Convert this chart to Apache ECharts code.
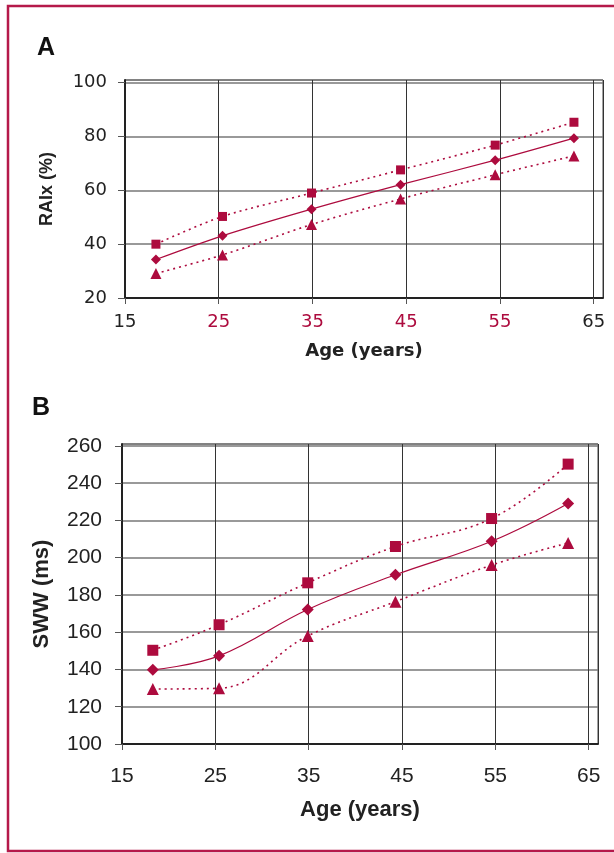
<!DOCTYPE html>
<html><head><meta charset="utf-8">
<script src="https://cdn.jsdelivr.net/npm/echarts@6/dist/echarts.min.js"></script>
<style>html,body{margin:0;padding:0;background:#fff}#c{width:614px;height:853px}</style>
</head><body><div id="c"></div>
<script>
// ---- data ----
var agesA = [18.3, 25.4, 34.9, 44.4, 54.5, 62.9];
var raixUpper = [40, 50.3, 59, 67.6, 76.8, 85.3];
var raixMean  = [34.3, 43.1, 53.0, 62.1, 71.2, 79.4];
var raixLower = [29.1, 36.0, 47.3, 56.8, 65.8, 72.8];

var agesB = [18.3, 25.4, 34.9, 44.3, 54.6, 62.8];
var swwUpper = [150.3, 164, 186.5, 206, 221, 250.2];
var swwMean  = [139.8, 147.3, 172.2, 190.8, 208.8, 229.1];
var swwLower = [129.5, 129.9, 158, 176.4, 196, 207.9];

var redLabelsA = ['25', '35', '45', '55'];

var RED = '#ad0b3e';
var WFONT = '"DejaVu Sans", "Liberation Sans", Arial, sans-serif';
var AFONT = '"Liberation Sans", Arial, sans-serif';

function pairs(xs, ys) { return xs.map(function (x, i) { return [x, ys[i]]; }); }

function mkSeries(idx, xs, ys, symbol, size, dotted, smooth) {
  return {
    type: 'line', xAxisIndex: idx, yAxisIndex: idx,
    data: pairs(xs, ys), symbol: symbol, symbolSize: size, smooth: smooth,
    itemStyle: { color: RED },
    lineStyle: { color: RED, width: dotted ? 1.6 : 1.2, type: dotted ? [2, 4] : 'solid' },
    z: 5
  };
}

var chart = echarts.init(document.getElementById('c'), null, { renderer: 'canvas' });

function xAxisCfg(idx, font, fs, margin, nameFont, nameGap, nameFs, colorFn) {
  return {
    gridIndex: idx, type: 'value', min: 15, max: 66, interval: 10,
    name: 'Age (years)', nameLocation: 'middle', nameGap: nameGap,
    nameTextStyle: { fontFamily: nameFont, fontWeight: 'bold', fontSize: nameFs, color: '#222' },
    axisLine: { show: true, onZero: false, lineStyle: { color: '#222', width: 2 } },
    axisTick: { show: true, length: 6, lineStyle: { color: '#555', width: 1 } },
    axisLabel: { fontFamily: font, fontSize: fs, margin: margin, showMaxLabel: false,
      color: colorFn || '#222' },
    splitLine: { show: true, lineStyle: { color: '#333', width: 1 } }
  };
}
function yAxisCfg(idx, name, min, max, font, fs, margin, nameFont, nameGap, nameFs) {
  return {
    gridIndex: idx, type: 'value', min: min, max: max, interval: 20,
    name: name, nameLocation: 'middle', nameGap: nameGap, nameRotate: 90,
    nameTextStyle: { fontFamily: nameFont, fontWeight: 'bold', fontSize: nameFs, color: '#222' },
    axisLine: { show: true, onZero: false, lineStyle: { color: '#222', width: 2 } },
    axisTick: { show: true, length: 7, lineStyle: { color: '#555', width: 1 } },
    axisLabel: { fontFamily: font, fontSize: fs, margin: margin, showMaxLabel: false, color: '#222' },
    splitLine: { show: true, lineStyle: { color: '#777', width: 1.5 } }
  };
}

var option = {
  animation: false,
  backgroundColor: '#fff',
  title: [
    { text: 'A', left: 32, top: 31, textStyle: { fontFamily: AFONT, fontWeight: 'bold', fontSize: 25, color: '#111' } },
    { text: 'B', left: 27, top: 391, textStyle: { fontFamily: AFONT, fontWeight: 'bold', fontSize: 25, color: '#111' } }
  ],
  graphic: [
    { type: 'rect', shape: { x: 8, y: 6, width: 640, height: 845 }, silent: true,
      style: { fill: null, stroke: '#b5194a', lineWidth: 2.5 } }
  ],
  grid: [
    { left: 125, right: 11, top: 80, bottom: 555, show: true, borderColor: '#444', borderWidth: 1 },
    { left: 122, right: 16, top: 444, bottom: 109, show: true, borderColor: '#444', borderWidth: 1 }
  ],
  xAxis: [
    xAxisCfg(0, WFONT, 18, 15, WFONT, 44, 18, function (v) { return redLabelsA.indexOf(String(v)) >= 0 ? RED : '#222'; }),
    xAxisCfg(1, AFONT, 21, 22, AFONT, 55, 22)
  ],
  yAxis: [
    yAxisCfg(0, 'RAIx (%)', 20, 101, WFONT, 18, 18, AFONT, 69, 18),
    yAxisCfg(1, 'SWW (ms)', 100, 261, AFONT, 21, 20, AFONT, 69, 22)
  ],
  series: [
    mkSeries(0, agesA, raixUpper, 'rect', 9, true, 0.3),
    mkSeries(0, agesA, raixMean, 'diamond', 10, false, 0.3),
    mkSeries(0, agesA, raixLower, 'triangle', 11, true, 0.3),
    mkSeries(1, agesB, swwUpper, 'rect', 11, true, 0.4),
    mkSeries(1, agesB, swwMean, 'diamond', 12, false, 0.4),
    mkSeries(1, agesB, swwLower, 'triangle', 12, true, 0.4)
  ]
};
chart.setOption(option);
</script></body></html>
